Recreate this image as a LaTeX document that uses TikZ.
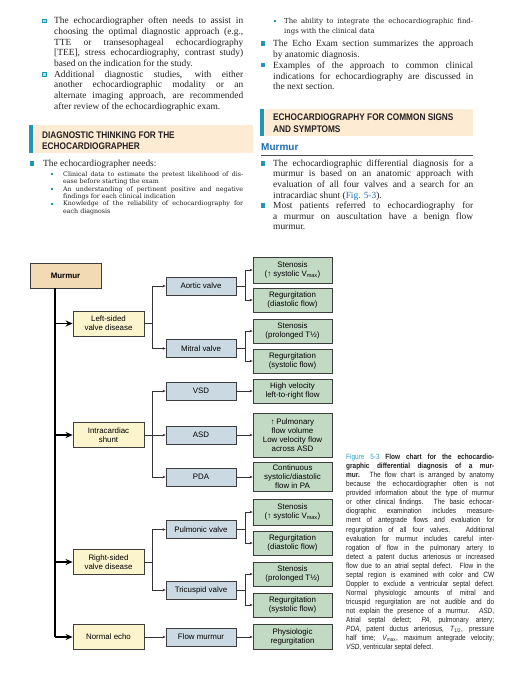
\documentclass[tikz,border=0pt]{standalone}
\usepackage{fontspec}
\setmainfont{Liberation Serif}
\setsansfont{Liberation Sans}
\newfontfamily\subfont{DejaVu Serif}
\newfontfamily\condfont[FakeStretch=0.86]{Liberation Sans}
\newfontfamily\capfont[FakeStretch=0.85]{Liberation Sans}
\usetikzlibrary{arrows.meta,calc}
\definecolor{teal1}{HTML}{1F97B4}
\definecolor{hdrfill}{HTML}{FDEBD3}
\definecolor{murmurblue}{HTML}{1D6DB0}
\definecolor{figteal}{HTML}{2AA3CC}
\definecolor{textdark}{HTML}{231F20}
\definecolor{boxline}{HTML}{3D3D3D}
\definecolor{conn}{HTML}{333333}
\definecolor{c0}{HTML}{F1DAB4}
\definecolor{c1}{HTML}{FBF4CC}
\definecolor{c2}{HTML}{CBDAE2}
\definecolor{c3}{HTML}{C2DAC4}
\tikzset{
 bodytxt/.style={anchor=base west, inner sep=0pt, text=textdark, font=\fontsize{9.4}{10.7}\selectfont},
 subtxt/.style={anchor=base west, inner sep=0pt, text=textdark, font=\subfont\fontsize{6.3}{7.3}\selectfont},
 hdrtxt/.style={anchor=base west, inner sep=0pt, text=textdark, font=\condfont\bfseries\fontsize{9.6}{11}\selectfont},
 captxt/.style={anchor=base west, inner sep=0pt, text=textdark, font=\capfont\fontsize{7.6}{9}\selectfont},
 flowbox/.style={draw=boxline, line width=0.8pt, align=center, inner sep=1pt, text=black, font=\sffamily\fontsize{7.9}{9}\selectfont},
 murmurbox/.style={flowbox, fill=c0, minimum width=71pt, minimum height=25pt, font=\sffamily\bfseries\fontsize{7.9}{9}\selectfont},
 lvlone/.style={flowbox, fill=c1, minimum width=71pt, minimum height=25pt},
 lvltwo/.style={flowbox, fill=c2, minimum width=70pt, minimum height=18pt},
 lvlthree/.style={flowbox, fill=c3, minimum width=79pt, minimum height=24pt},
 trunkline/.style={line width=1.2pt, draw=black},
 bigarr/.style={trunkline, -{Stealth[length=7pt,width=6pt]}},
 smallarr/.style={line width=0.6pt, draw=conn, -{Stealth[length=3pt,width=2.6pt]}},
 sqbullet/.style={rectangle, fill=teal1, minimum size=4.5pt, inner sep=0pt},
 openbullet/.style={rectangle, draw=teal1, fill=teal1!35, line width=0.5pt, minimum size=3.8pt, inner sep=0pt},
 tinybullet/.style={rectangle, fill=teal1, minimum size=2.2pt, inner sep=0pt}
}
\begin{document}
\begin{tikzpicture}[x=1pt,y=-1pt]
\useasboundingbox (0,0) rectangle (504,688);
\fill[white] (0,0) rectangle (504,688);

% ---------- left column, top ----------
\node[openbullet] (ob1) at (44,20.7) {};
\node[openbullet] (ob2) at (44,74.4) {};
\foreach \t [count=\i] in {
 {The echocardiographer often needs to assist in},
 {choosing the optimal diagnostic approach (e.g.,},
 {TTE or transesophageal echocardiography},
 {[TEE], stress echocardiography, contrast study)},
 {based on the indication for the study.\hfill},
 {Additional diagnostic studies, with either},
 {another echocardiographic modality or an},
 {alternate imaging approach, are recommended},
 {after review of the echocardiographic exam.\hfill}}
 \node[bodytxt] (la\i) at (54,{23.7+(\i-1)*10.67}) {\makebox[189pt][s]{\t}};

% header 1
\fill[hdrfill] (29,125) rectangle (253,153);
\fill[teal1] (29,125) rectangle (33,153);
\node[hdrtxt] (h1a) at (42,138.6) {DIAGNOSTIC THINKING FOR THE};
\node[hdrtxt] (h1b) at (42,149.6) {ECHOCARDIOGRAPHER};

\node[sqbullet] (sb1) at (32,163.3) {};
\node[bodytxt] (needs) at (43,166.3) {The echocardiographer needs:};
\node[tinybullet] (tb1) at (52,174.3) {};
\node[tinybullet] (tb2) at (52,189) {};
\node[tinybullet] (tb3) at (52,203.7) {};
\foreach \t [count=\i] in {
 {Clinical data to estimate the pretest likelihood of dis-},
 {ease before starting the exam\hfill},
 {An understanding of pertinent positive and negative},
 {findings for each clinical indication\hfill},
 {Knowledge of the reliability of echocardiography for},
 {each diagnosis\hfill}}
 \node[subtxt] (ls\i) at (63,{176.6+(\i-1)*7.33}) {\makebox[180pt][s]{\t}};

% ---------- right column, top ----------
\node[tinybullet] (tb4) at (275,20.7) {};
\node[subtxt, font=\subfont\fontsize{6.9}{10}\selectfont] (rs1) at (284,23.2) {\makebox[189pt][s]{The ability to integrate the echocardiographic find-}};
\node[subtxt, font=\subfont\fontsize{6.9}{10}\selectfont] (rs2) at (284,33.6) {\makebox[189pt][s]{ings with the clinical data\hfill}};
\node[sqbullet] (sb2) at (263,43.3) {};
\node[sqbullet] (sb3) at (263,65.1) {};
\foreach \t [count=\i] in {
 {The Echo Exam section summarizes the approach},
 {by anatomic diagnosis.\hfill},
 {Examples of the approach to common clinical},
 {indications for echocardiography are discussed in},
 {the next section.\hfill}}
 \node[bodytxt] (ra\i) at (273,{46.3+(\i-1)*10.9}) {\makebox[200pt][s]{\t}};

% header 2
\fill[hdrfill] (260,109) rectangle (473,136);
\fill[teal1] (260,109) rectangle (264,136);
\node[hdrtxt] (h2a) at (273,120.8) {ECHOCARDIOGRAPHY FOR COMMON SIGNS};
\node[hdrtxt] (h2b) at (273,132.8) {AND SYMPTOMS};
\node[anchor=base west, inner sep=0pt, text=murmurblue, font=\sffamily\bfseries\fontsize{10}{12}\selectfont] (mhead) at (261,150.3) {Murmur};
\draw[line width=0.8pt, draw=black!70] (261,155.5) -- (473,155.5);

\node[sqbullet] (sb4) at (263,163.3) {};
\node[sqbullet] (sb5) at (263,205.7) {};
\foreach \t [count=\i] in {
 {The echocardiographic differential diagnosis for a},
 {murmur is based on an anatomic approach with},
 {evaluation of all four valves and a search for an},
 {intracardiac shunt ({\color{murmurblue}Fig. 5-3}).\hfill},
 {Most patients referred to echocardiography for},
 {a murmur on auscultation have a benign flow},
 {murmur.\hfill}}
 \node[bodytxt] (rb\i) at (273,{166.3+(\i-1)*10.6}) {\makebox[200pt][s]{\t}};

% ---------- caption ----------
\foreach \t [count=\i] in {
 {{\color{figteal}Figure 5-3} \textbf{Flow chart for the echocardio-}},
 {\textbf{graphic differential diagnosis of a mur-}},
 {\textbf{mur.} The flow chart is arranged by anatomy},
 {because the echocardiographer often is not},
 {provided information about the type of murmur},
 {or other clinical findings. The basic echocar-},
 {diographic examination includes measure-},
 {ment of antegrade flows and evaluation for},
 {regurgitation of all four valves. Additional},
 {evaluation for murmur includes careful inter-},
 {rogation of flow in the pulmonary artery to},
 {detect a patent ductus arteriosus or increased},
 {flow due to an atrial septal defect. Flow in the},
 {septal region is examined with color and CW},
 {Doppler to exclude a ventricular septal defect.},
 {Normal physiologic amounts of mitral and},
 {tricuspid regurgitation are not audible and do},
 {not explain the presence of a murmur. \textit{ASD},},
 {Atrial septal defect; \textit{PA}, pulmonary artery;},
 {\textit{PDA}, patent ductus arteriosus, \textit{T}\textsubscript{1/2}, pressure},
 {half time; \textit{V}\textsubscript{max}, maximum antegrade velocity;},
 {\textit{VSD}, ventricular septal defect.\hfill}}
 \node[captxt] (cap\i) at (346,{459.6+(\i-1)*9.05}) {\makebox[148pt][s]{\t}};

% ---------- flow chart ----------
\node[murmurbox] (murmur) at (65.5,275.5) {Murmur};

\node[lvlone] (lsv) at (108.5,323.5) {Left-sided\\valve disease};
\node[lvlone] (shunt) at (108.5,435) {Intracardiac\\shunt};
\node[lvlone] (rsv) at (108.5,562) {Right-sided\\valve disease};
\node[lvlone] (normal) at (108.5,637) {Normal echo};

\node[lvltwo] (aortic) at (201,286) {Aortic valve};
\node[lvltwo] (mitral) at (201,348.5) {Mitral valve};
\node[lvltwo] (vsd) at (201,391) {VSD};
\node[lvltwo] (asd) at (201,435) {ASD};
\node[lvltwo] (pda) at (201,477) {PDA};
\node[lvltwo] (pulm) at (201,529.5) {Pulmonic valve};
\node[lvltwo] (tric) at (201,590) {Tricuspid valve};
\node[lvltwo] (flowm) at (201,637) {Flow murmur};

\node[lvlthree, minimum height=26pt] (s1) at (292.5,270) {Stenosis\\(\textuparrow\ systolic V\textsubscript{max})};
\node[lvlthree] (r1) at (292.5,300) {Regurgitation\\(diastolic flow)};
\node[lvlthree] (s2) at (292.5,331) {Stenosis\\(prolonged T½)};
\node[lvlthree] (r2) at (292.5,361) {Regurgitation\\(systolic flow)};
\node[lvlthree] (hv) at (292.5,391) {High velocity\\left-to-right flow};
\node[lvlthree, minimum height=44pt] (pf) at (292.5,435) {\textuparrow\,Pulmonary\\flow volume\\Low velocity flow\\across ASD};
\node[lvlthree, minimum height=29pt] (cs) at (292.5,477) {Continuous\\systolic/diastolic\\flow in PA};
\node[lvlthree, minimum height=26pt] (s3) at (292.5,512) {Stenosis\\(\textuparrow\ systolic V\textsubscript{max})};
\node[lvlthree] (r3) at (292.5,543) {Regurgitation\\(diastolic flow)};
\node[lvlthree] (s4) at (292.5,574) {Stenosis\\(prolonged T½)};
\node[lvlthree] (r4) at (292.5,605) {Regurgitation\\(systolic flow)};
\node[lvlthree, minimum height=25pt] (phys) at (292.5,637) {Physiologic\\regurgitation};

% trunk
\coordinate (trunkend) at (55,637);
\draw[trunkline] (murmur.south -| trunkend) -- (trunkend);
\draw[bigarr] (trunkend |- lsv.west) -- (lsv.west);
\draw[bigarr] (trunkend |- shunt.west) -- (shunt.west);
\draw[bigarr] (trunkend |- rsv.west) -- (rsv.west);
\draw[bigarr] (trunkend) -- (normal.west);

% level 1 -> level 2
\draw[smallarr] (lsv.east) -- ++(8,0) |- (aortic.west);
\draw[smallarr] (lsv.east) -- ++(8,0) |- (mitral.west);
\draw[smallarr] (shunt.east) -- ++(8,0) |- (vsd.west);
\draw[smallarr] (shunt.east) -- (asd.west);
\draw[smallarr] (shunt.east) -- ++(8,0) |- (pda.west);
\draw[smallarr] (rsv.east) -- ++(8,0) |- (pulm.west);
\draw[smallarr] (rsv.east) -- ++(8,0) |- (tric.west);
\draw[smallarr] (normal.east) -- (flowm.west);

% level 2 -> level 3
\draw[smallarr] (aortic.east) -- ++(9,0) |- (s1.west);
\draw[smallarr] (aortic.east) -- ++(9,0) |- (r1.west);
\draw[smallarr] (mitral.east) -- ++(9,0) |- (s2.west);
\draw[smallarr] (mitral.east) -- ++(9,0) |- (r2.west);
\draw[smallarr] (vsd.east) -- (hv.west);
\draw[smallarr] (asd.east) -- (pf.west);
\draw[smallarr] (pda.east) -- (cs.west);
\draw[smallarr] (pulm.east) -- ++(9,0) |- (s3.west);
\draw[smallarr] (pulm.east) -- ++(9,0) |- (r3.west);
\draw[smallarr] (tric.east) -- ++(9,0) |- (s4.west);
\draw[smallarr] (tric.east) -- ++(9,0) |- (r4.west);
\draw[smallarr] (flowm.east) -- (phys.west);
\end{tikzpicture}
\end{document}
